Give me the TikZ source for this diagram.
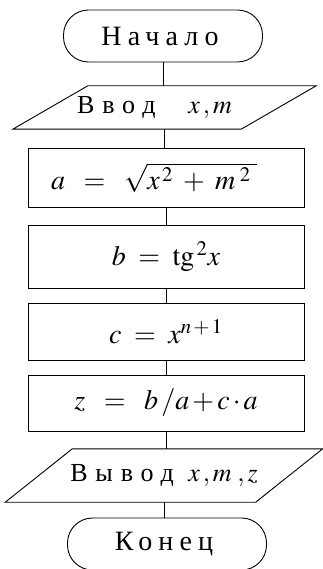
\documentclass[tikz,border=0pt]{standalone}
\usepackage{mathptmx}
\usepackage{fontspec}
\setmainfont{Liberation Serif}
\newfontfamily\spaced[LetterSpace=22]{Liberation Serif}
\newfontfamily\wide[LetterSpace=30]{Liberation Serif}
\usetikzlibrary{shapes.geometric}

\tikzset{
  terminal/.style={draw,line width=0.9pt,rectangle,rounded corners=25pt,
    minimum width=199pt,minimum height=52pt,inner sep=0pt,
    font=\fontsize{28}{32}\selectfont\spaced},
  inout/.style={rectangle,inner sep=0pt,
    font=\fontsize{26}{30}\selectfont\wide},
  process/.style={draw,line width=0.9pt,rectangle,minimum width=276pt,
    inner sep=0pt,font=\fontsize{28}{32}\selectfont},
  link/.style={line width=0.9pt}
}

\begin{document}
\begin{tikzpicture}[x=1pt,y=-1pt]
\useasboundingbox (0,0) rectangle (322,569);

\node[terminal] (start) at (163,36) {Начало\hspace*{6pt}};
\node[inout,minimum width=228pt,minimum height=43pt] (input) at (164.5,107.5)
  {Ввод\ \ \,$x\,,m$\hspace*{20pt}};
\draw[link] ([xshift=37.5pt]input.north west) -- ([xshift=37.5pt]input.north east)
  -- ([xshift=-37.5pt]input.south east) -- ([xshift=-37.5pt]input.south west) -- cycle;

% computation blocks
\node[process,minimum height=59pt] (calcA) at (166,177.5)
  {$a\;\;=\;\;\sqrt{x^{\,2}\;+\;m^{\;2}\;}$\hspace*{24pt}};
\node[process,minimum height=63pt] (calcB) at (166,256.5)
  {$b\;=\;\mathrm{tg}^{\,2}x$};
\node[process,minimum height=57pt] (calcC) at (166,331.5)
  {$c\;=\;x^{n\,+\,1}$};
\node[process,minimum height=56pt] (calcZ) at (166,403)
  {$z\;\;=\;\;b\,/a\,{+}\,c\,{\cdot}\,a$};

\node[inout,minimum width=250pt,minimum height=53pt] (output) at (164,475.5)
  {Вывод $x\,,m\;,z$};
\draw[link] ([xshift=33.5pt]output.north west) -- ([xshift=33.5pt]output.north east)
  -- ([xshift=-33.5pt]output.south east) -- ([xshift=-33.5pt]output.south west) -- cycle;
\node[terminal] (stop) at (167,544) {Конец\hspace*{6pt}};

\draw[link] (start) -- (start |- input.north);
\draw[link] (input) -- (input |- calcA.north);
\draw[link] (calcA) -- (calcB);
\draw[link] (calcB) -- (calcC);
\draw[link] (calcC) -- (calcZ);
\draw[link] (calcZ) -- (calcZ |- output.north);
\draw[link] (output) -- (output |- stop.north);
\end{tikzpicture}
\end{document}
